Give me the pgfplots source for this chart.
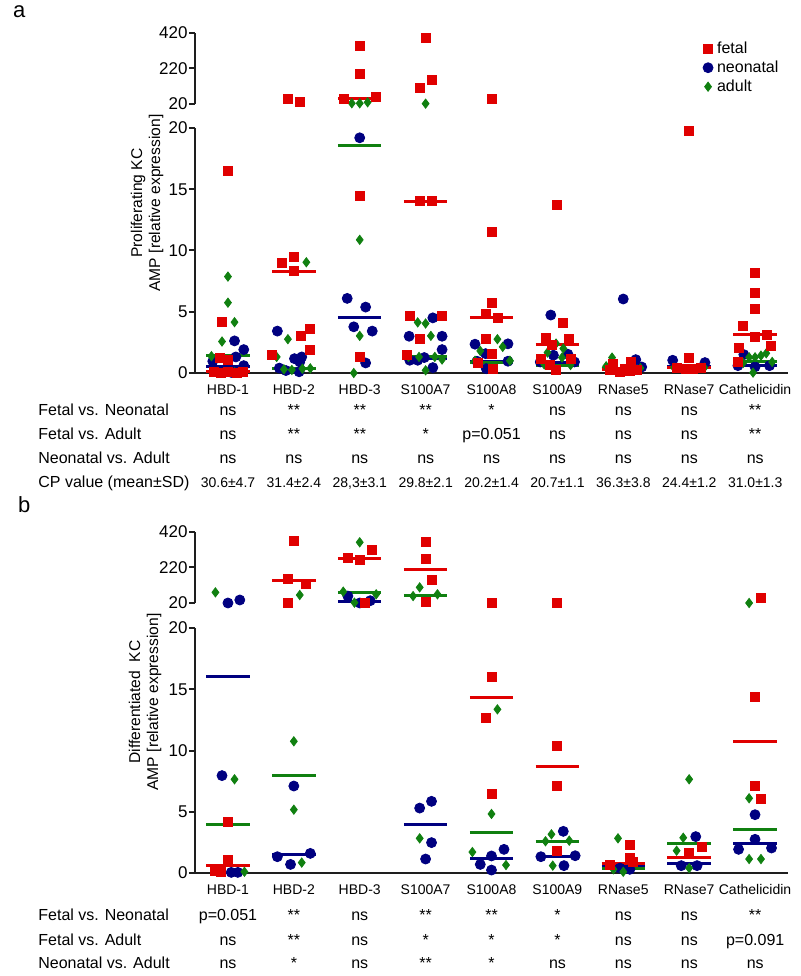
\documentclass[border=0pt]{standalone}
\usepackage{fontspec}
\setmainfont{Liberation Sans}
\usepackage{pgfplots}
\pgfplotsset{compat=1.18}
\definecolor{cred}{RGB}{224,0,0}
\definecolor{cnavy}{RGB}{0,0,128}
\definecolor{cgreen}{RGB}{16,128,16}
\definecolor{caxis}{RGB}{30,30,30}
\pgfplotsset{
  panel/.style={scale only axis, width=296.5pt, xmin=-0.5, xmax=8.5, clip=false,
    axis y line*=left, axis line style={-, line width=1pt, caxis},
    tick align=outside, major tick length=3pt, ytick style={line width=1pt, caxis},
    /pgf/number format/assume math mode=true,
    yticklabel style={font=\fontsize{8.5}{9}\selectfont, inner sep=0.5pt},
  },
  upper/.style={panel, height=35.5pt, ymin=20, ymax=420, ytick={20,220,420}, axis x line=none},
  lower/.style={panel, height=122.5pt, ymin=0, ymax=20, ytick={0,5,10,15,20},
    axis x line*=bottom, xtick={0,...,8},
    xticklabels={HBD-1,HBD-2,HBD-3,S100A7,S100A8,S100A9,RNase5,RNase7,Cathelicidin},
    xtick style={draw=none},
    xticklabel style={font=\fontsize{7}{8}\selectfont, anchor=base, yshift=-8pt}},
  fet/.style={only marks, mark=square*, mark size=2.25pt, color=cred},
  neo/.style={only marks, mark=*, mark size=2.5pt, color=cnavy},
  adu/.style={only marks, mark=diamond*, mark size=2.3pt, color=cgreen},
  mfet/.style={no marks, cred, line width=1.5pt, unbounded coords=jump},
  mneo/.style={no marks, cnavy, line width=1.5pt, unbounded coords=jump},
  madu/.style={no marks, cgreen, line width=1.5pt, unbounded coords=jump},
}
\begin{document}
\begin{tikzpicture}
\path[use as bounding box] (0,0) rectangle (400pt,488pt);
% ================= PANEL A upper
\begin{axis}[upper, at={(97.5pt,436pt)}, anchor=south west,
  legend style={at={(0.846,0.96)}, anchor=north west, draw=none, fill=none,
    font=\fontsize{8}{9}\selectfont, legend cell align=left, row sep=1pt,
    nodes={inner ysep=0.6pt, inner xsep=2pt}},
  legend image code/.code={\draw[mark repeat=2,mark phase=2,#1] plot coordinates {(0cm,0cm) (0.15cm,0cm) (0.3cm,0cm)};}]
\addlegendimage{fet}\addlegendentry{fetal}
\addlegendimage{neo}\addlegendentry{neonatal}
\addlegendimage{adu}\addlegendentry{adult}
\addplot[adu, forget plot] coordinates {(1.88,24) (2,24) (2.12,29.7) (3,22)};
\addplot[fet, forget plot] coordinates {(0.91,48.6) (1.09,29.7) (2,347) (2,190) (1.76,49) (2.24,58) (3,391) (3.09,157) (2.91,113) (4,50)};
\addplot[mfet, forget plot] coordinates {(1.67,52.6) (2.33,52.6)};
\end{axis}
% ================= PANEL A lower
\begin{axis}[lower, at={(97.5pt,301.5pt)}, anchor=south west]
\addplot[neo] coordinates {
 (0.1,2.62) (0.24,1.91) (0.12,1.31) (-0.23,0.96) (0.24,0.6) (-0.07,0.08) (0.05,0.05)
 (0.75,3.42) (1.01,1.17) (1.12,1.31) (1.09,0.9) (0.78,0.4) (0.88,0.2) (1.08,0.1)
 (2,19.2) (1.91,3.77) (1.81,6.09) (2.09,5.38) (2.19,3.42) (2.09,0.82)
 (3.11,4.5) (2.75,3.0) (3.25,3.0) (3.25,1.91) (2.76,1.04) (2.88,1.04) (2.98,1.26) (3.11,0.44)
 (3.75,2.35) (4.25,2.38) (3.91,1.58) (3.78,0.96) (4.25,0.96) (3.92,0.36)
 (4.9,4.73) (4.94,1.45) (5.16,1.53) (4.74,0.9) (5.26,0.9)
 (6,6.04) (6.19,1.09) (6.28,0.49)
 (6.75,1.04) (7.24,0.85)
 (7.83,1.5) (7.74,0.6) (8,0.5) (8.22,0.6)};
\addplot[adu] coordinates {
 (0,7.87) (0,5.74) (0.1,4.15) (-0.09,2.57) (-0.25,1.37) (0.1,0.05) (-0.15,0.1)
 (1.19,9.04) (0.91,2.76) (0.74,1.31) (0.85,0.3) (0.97,0.25) (1.13,0.35) (1.25,0.38)
 (2,10.87) (2,3.03) (1.91,0.0)
 (2.88,4.13) (3,4.04) (3.08,3.03) (3,0.22) (2.74,1.31) (2.9,1.31) (3.14,1.31) (3.25,1.1)
 (4.09,2.76) (3.83,1.8) (4.17,2.13) (3.75,1.0) (4.28,1.0)
 (4.98,2.4) (4.85,1.67) (5.09,2.0) (5.07,1.26) (4.8,0.7) (5.2,0.65)
 (5.83,1.26) (5.74,0.55) (6.26,0.4)
 (6.77,0.44) (7.23,0.44)
 (7.91,1.28) (8,1.28) (8.09,1.42) (8.17,1.61) (7.82,0.82) (8.26,0.9) (7.97,0.03)};
\addplot[fet] coordinates {
 (0,16.5) (-0.09,4.21) (-0.12,1.26) (0,1.04) (-0.22,0.05) (-0.1,0.03) (0,0.05) (0.13,0.03) (0.23,0.05)
 (0.82,8.99) (1,9.45) (1,8.31) (1.1,3.03) (1.25,3.63) (1.24,1.91) (0.67,1.45)
 (2,14.48) (2,1.31)
 (2.91,14.02) (3.09,14.02) (2.76,4.67) (3.24,4.67) (2.91,2.76) (2.71,1.45)
 (4,11.48) (4,5.74) (3.91,4.86) (4.09,4.51) (3.91,2.76) (4,1.53) (4.02,0.36) (3.8,0.85)
 (5,13.69) (5.09,4.1) (4.82,2.84) (5.18,2.79) (4.91,2.3) (4.75,1.17) (5.21,1.15) (4.89,0.68) (4.98,0.27)
 (5.85,0.77) (6.12,0.9) (6.03,0.35) (5.95,0.1) (5.8,0.27) (6.2,0.27) (6.1,0.15)
 (7,19.8) (7,1.23) (6.82,0.44) (6.95,0.3) (7.05,0.3) (7.18,0.44)
 (8,8.2) (8,6.5) (8,5.25) (7.82,3.83) (8.18,3.11) (8,2.95) (7.76,2.05) (8.24,2.21) (7.74,0.9)};
\addplot[mneo] coordinates {(-0.33,0.55) (0.33,0.55) (0.5,nan) (0.67,0.33) (1.33,0.33) (1.5,nan)
 (1.67,4.56) (2.33,4.56) (2.5,nan) (2.67,1.15) (3.33,1.15) (3.5,nan) (3.67,0.9) (4.33,0.9) (4.5,nan)
 (4.67,0.82) (5.33,0.82) (5.5,nan) (5.67,0.4) (6.33,0.4) (6.5,nan) (6.67,0.5) (7.33,0.5) (7.5,nan)
 (7.67,0.63) (8.33,0.63)};
\addplot[madu] coordinates {(-0.33,1.42) (0.33,1.42) (0.5,nan) (0.67,0.38) (1.33,0.38) (1.5,nan)
 (1.67,18.6) (2.33,18.6) (2.5,nan) (2.67,1.31) (3.33,1.31) (3.5,nan) (3.67,0.82) (4.33,0.82) (4.5,nan)
 (4.67,0.63) (5.33,0.63) (5.5,nan) (5.67,0.35) (6.33,0.35) (6.5,nan) (6.67,0.45) (7.33,0.45) (7.5,nan)
 (7.67,0.96) (8.33,0.96)};
\addplot[mfet] coordinates {(-0.33,0.1) (0.33,0.1) (0.5,nan) (0.67,8.31) (1.33,8.31) (1.5,nan)
 (2.67,14.02) (3.33,14.02) (3.5,nan) (3.67,4.54) (4.33,4.54) (4.5,nan)
 (4.67,2.3) (5.33,2.3) (5.5,nan) (5.67,0.25) (6.33,0.25) (6.5,nan) (6.67,0.41) (7.33,0.41) (7.5,nan)
 (7.67,3.11) (8.33,3.11)};
\end{axis}
% ================= PANEL B upper
\begin{axis}[upper, at={(97.5pt,186.5pt)}, anchor=south west]
\addplot[neo] coordinates {(0,20) (0.18,37) (1.82,59) (2,20) (2.16,33)};
\addplot[adu] coordinates {(-0.19,80) (1.09,65) (2,362) (1.75,84) (2.25,69) (1.92,22) (2.91,108) (2.81,59) (3.18,69) (7.91,20)};
\addplot[fet] coordinates {(1,369) (0.91,155) (1.18,127) (0.91,22) (2.18,318) (1.82,273) (2,262) (2.08,22)
 (3,363) (3,270) (3.09,148) (3,24) (4,22) (5,22) (8.09,46)};
\addplot[mneo] coordinates {(1.67,29) (2.33,29)};
\addplot[madu] coordinates {(1.67,78) (2.33,78) (2.5,nan) (2.67,65) (3.33,65)};
\addplot[mfet] coordinates {(0.67,144) (1.33,144) (1.5,nan) (1.67,268) (2.33,268) (2.5,nan) (2.67,210) (3.33,210)};
\end{axis}
% ================= PANEL B lower
\begin{axis}[lower, at={(97.5pt,51.5pt)}, anchor=south west]
\addplot[neo] coordinates {
 (-0.09,7.95) (0.05,0.05) (0.15,0.05)
 (1,7.1) (0.75,1.33) (1.25,1.6) (0.95,0.7)
 (2.91,5.3) (3.09,5.85) (3.09,2.48) (3,1.14)
 (4,1.39) (4.19,1.93) (4,0.24) (3.83,0.7)
 (5.09,3.4) (4.75,1.33) (5.27,1.41) (5.1,0.6)
 (5.95,0.4) (6.1,0.3)
 (7.1,2.97) (6.88,0.6) (7.12,0.6)
 (8,4.76) (8,2.75) (7.75,1.93) (8.25,2.04)};
\addplot[adu] coordinates {
 (0.1,7.65) (0.25,0.1)
 (1,10.75) (1,5.17) (1.12,0.85)
 (2.91,2.83)
 (4.09,13.36) (4,4.82) (3.71,1.71) (4.22,0.65)
 (4.91,3.16) (4.82,2.59) (5.18,2.64) (4.93,0.6)
 (5.92,2.83) (6,0.1) (5.85,0.3)
 (7,7.65) (6.91,2.88) (6.81,1.82) (7,0.4)
 (7.91,6.1) (7.91,1.14) (8.09,1.14)};
\addplot[fet] coordinates {
 (0,4.19) (0,1.1) (-0.2,0.2) (-0.1,0.05)
 (4,6.45) (3.91,12.68) (4,15.97)
 (5,10.39) (5,7.1) (5,1.77)
 (6.1,2.26) (6.1,1.2) (5.8,0.7) (6.15,0.9)
 (7,1.66) (7.19,2.1)
 (8,14.34) (8,7.1) (8.09,6.07)};
\addplot[mneo] coordinates {(-0.33,16.03) (0.33,16.03) (0.5,nan) (0.67,1.47) (1.33,1.47) (1.5,nan)
 (2.67,3.92) (3.33,3.92) (3.5,nan) (3.67,1.17) (4.33,1.17) (4.5,nan)
 (4.67,1.33) (5.33,1.33) (5.5,nan) (5.67,0.55) (6.33,0.55) (6.5,nan) (6.67,0.8) (7.33,0.8) (7.5,nan)
 (7.67,2.42) (8.33,2.42)};
\addplot[madu] coordinates {(-0.33,3.92) (0.33,3.92) (0.5,nan) (0.67,7.97) (1.33,7.97) (1.5,nan)
 (3.67,3.29) (4.33,3.29) (4.5,nan)
 (4.67,2.61) (5.33,2.61) (5.5,nan) (5.67,0.4) (6.33,0.4) (6.5,nan) (6.67,2.37) (7.33,2.37) (7.5,nan)
 (7.67,3.59) (8.33,3.59)};
\addplot[mfet] coordinates {(-0.33,0.65) (0.33,0.65) (0.5,nan)
 (3.67,14.34) (4.33,14.34) (4.5,nan)
 (4.67,8.73) (5.33,8.73) (5.5,nan) (5.67,0.8) (6.33,0.8) (6.5,nan) (6.67,1.25) (7.33,1.25) (7.5,nan)
 (7.67,10.72) (8.33,10.72)};
\end{axis}
% ================= labels
\node[anchor=base west, font=\fontsize{11}{12}\selectfont] at (3pt,479pt) {a};
\node[anchor=base west, font=\fontsize{11}{12}\selectfont] at (5.5pt,231.5pt) {b};
\node[rotate=90, align=center, font=\fontsize{7.8}{9}\selectfont] at (73.5pt,386.5pt) {Proliferating KC\\AMP [relative expression]};
\node[rotate=90, align=center, font=\fontsize{7.8}{9}\selectfont] at (72.5pt,137pt) {Differentiated\ \ KC\\AMP [relative expression]};
% table a
\begin{scope}[every node/.style={font=\fontsize{8}{9}\selectfont, inner sep=0pt}]
\node[anchor=base west] at (19pt,280pt) {Fetal vs. Neonatal};
\node[anchor=base west] at (19pt,268pt) {Fetal vs. Adult};
\node[anchor=base west] at (19pt,256pt) {Neonatal vs. Adult};
\node[anchor=base west] at (19pt,244pt) {CP value (mean±SD)};
\foreach \t [count=\i from 0] in {ns,**,**,**,*,ns,ns,ns,**}
  \node[anchor=base] at ({114pt+32.95pt*\i},280pt) {\t};
\foreach \t [count=\i from 0] in {ns,**,**,*,p=0.051,ns,ns,ns,**}
  \node[anchor=base] at ({114pt+32.95pt*\i},268pt) {\t};
\foreach \t [count=\i from 0] in {ns,ns,ns,ns,ns,ns,ns,ns,ns}
  \node[anchor=base] at ({114pt+32.95pt*\i},256pt) {\t};
\foreach \t [count=\i from 0] in {30.6±4.7,31.4±2.4,{28,3±3.1},29.8±2.1,20.2±1.4,20.7±1.1,36.3±3.8,24.4±1.2,31.0±1.3}
  \node[anchor=base, font=\fontsize{7}{8}\selectfont] at ({114pt+32.95pt*\i},244pt) {\t};
% table b
\node[anchor=base west] at (19pt,27.5pt) {Fetal vs. Neonatal};
\node[anchor=base west] at (19pt,15.5pt) {Fetal vs. Adult};
\node[anchor=base west] at (19pt,3.5pt) {Neonatal vs. Adult};
\foreach \t [count=\i from 0] in {p=0.051,**,ns,**,**,*,ns,ns,**}
  \node[anchor=base] at ({114pt+32.95pt*\i},27.5pt) {\t};
\foreach \t [count=\i from 0] in {ns,**,ns,*,*,*,ns,ns,p=0.091}
  \node[anchor=base] at ({114pt+32.95pt*\i},15.5pt) {\t};
\foreach \t [count=\i from 0] in {ns,*,ns,**,*,ns,ns,ns,ns}
  \node[anchor=base] at ({114pt+32.95pt*\i},3.5pt) {\t};
\end{scope}
\end{tikzpicture}
\end{document}
